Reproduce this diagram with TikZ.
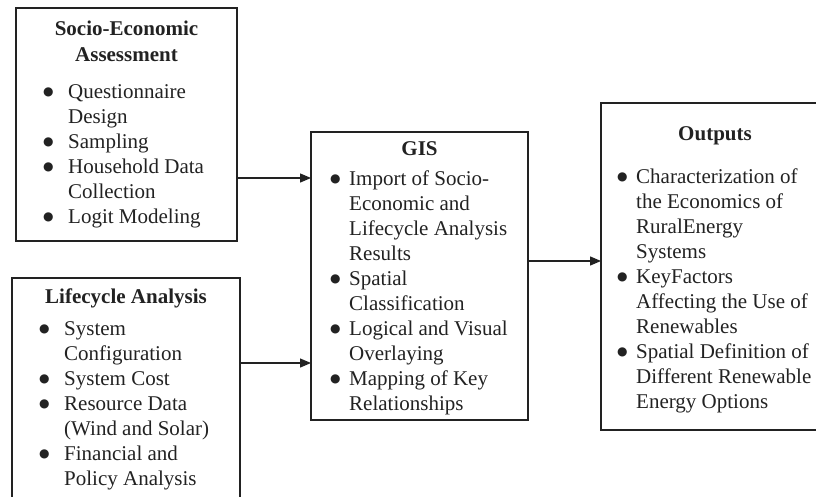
\documentclass[tikz,border=0pt]{standalone}
\usepackage{fontspec}
\setmainfont{Liberation Serif}
\newfontfamily\symf{DejaVu Sans}
\usetikzlibrary{arrows.meta}
\definecolor{ink}{HTML}{222222}
\newcommand{\bul}[1]{\makebox[#1][l]{\raisebox{2.5pt}{\symf\fontsize{12}{12}\selectfont ●}}}
\begin{document}
\begin{tikzpicture}[x=1pt,y=-1pt,
  box/.style={draw=ink,line width=1.3pt,inner sep=0pt,outer sep=0pt},
  ttl/.style={anchor=base,inner sep=0pt,text=ink,font=\fontsize{21}{26}\selectfont\bfseries},
  lst/.style={anchor=base west,inner sep=0pt,text=ink,font=\fontsize{21}{25}\selectfont},
  arr/.style={draw=ink,line width=1.3pt,-{Triangle[length=11pt,width=9pt]}}]
\useasboundingbox (0,0) rectangle (816,496);
% boxes
\node[box,minimum width=221pt,minimum height=233pt] (soc) at (126.5,124.5) {};
\node[box,minimum width=228pt,minimum height=227pt] (life) at (126,391.5) {};
\node[box,minimum width=217pt,minimum height=288pt] (gis) at (419.5,276) {};
\node[box,minimum width=228pt,minimum height=327pt] (out) at (715,266.5) {};
% titles
\node[ttl] (socT) at (126.5,35) {\begin{tabular}[t]{@{}c@{}}Socio-Economic\\Assessment\end{tabular}};
\node[ttl] (lifeT) at (126,303) {Lifecycle Analysis};
\node[ttl] (gisT) at (419.5,155) {GIS};
\node[ttl] (outT) at (715,140) {Outputs};
% lists
\node[lst] (socL) at (43,98) {\begin{tabular}[t]{@{}l@{}l@{}}
\bul{25pt} & Questionnaire\\
 & Design\\
\bul{25pt} & Sampling\\
\bul{25pt} & Household Data\\
 & Collection\\
\bul{25pt} & Logit Modeling
\end{tabular}};
\node[lst] (lifeL) at (39,335) {\begin{tabular}[t]{@{}l@{}l@{}}
\bul{25pt} & System\\
 & Configuration\\
\bul{25pt} & System Cost\\
\bul{25pt} & Resource Data\\
 & (Wind and Solar)\\
\bul{25pt} & Financial and\\
 & Policy Analysis
\end{tabular}};
\node[lst] (gisL) at (330,185) {\begin{tabular}[t]{@{}l@{}l@{}}
\bul{19pt} & Import of Socio-\\
 & Economic and\\
 & Lifecycle Analysis\\
 & Results\\
\bul{19pt} & Spatial\\
 & Classification\\
\bul{19pt} & Logical and Visual\\
 & Overlaying\\
\bul{19pt} & Mapping of Key\\
 & Relationships
\end{tabular}};
\node[lst] (outL) at (617,183) {\begin{tabular}[t]{@{}l@{}l@{}}
\bul{19pt} & Characterization of\\
 & the Economics of\\
 & RuralEnergy\\
 & Systems\\
\bul{19pt} & KeyFactors\\
 & Affecting the Use of\\
 & Renewables\\
\bul{19pt} & Spatial Definition of\\
 & Different Renewable\\
 & Energy Options
\end{tabular}};
% connectors
\draw[arr] ([yshift=-53.5pt]soc.east) -- ([yshift=98pt]gis.west);
\draw[arr] ([yshift=28.5pt]life.east) -- ([yshift=-87pt]gis.west);
\draw[arr] ([yshift=15pt]gis.east) -- ([yshift=5.5pt]out.west);
\end{tikzpicture}
\end{document}
